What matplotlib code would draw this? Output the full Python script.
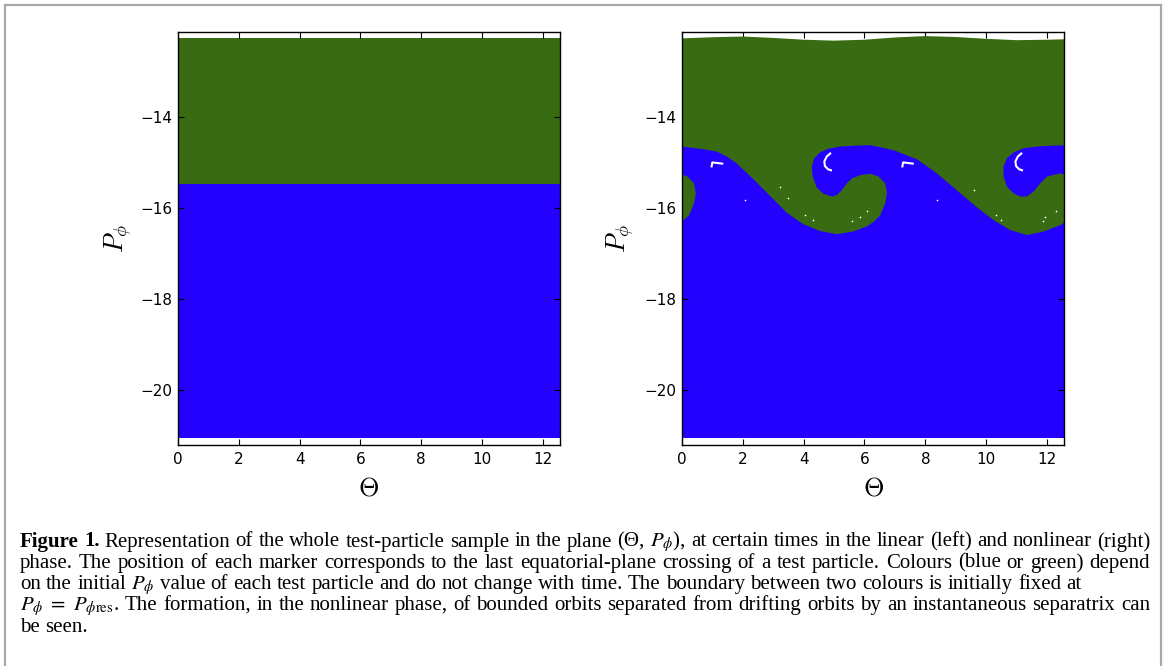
import numpy as np
import matplotlib
matplotlib.use("Agg")
import matplotlib.pyplot as plt
from matplotlib.lines import Line2D

# ---------------- data ----------------
THETA_MAX = 4 * np.pi
theta_ticks = [0, 2, 4, 6, 8, 10, 12]
p_ticks = [-14, -16, -18, -20]
ylim = (-21.21, -12.12)

# left panel (linear phase): two flat bands
left_p_top = -12.26
left_p_res = -15.46
left_p_bottom = -21.06

# right panel (nonlinear phase)
right_p_bottom = -21.06
top_theta = [-1.0, 0, 1, 2, 3, 4, 5, 6, 7, 8, 9, 10, 11, 12, 12.57, 13.5]
top_p = [-12.26, -12.26, -12.235, -12.22, -12.25, -12.29, -12.31, -12.29,
         -12.24, -12.21, -12.23, -12.27, -12.30, -12.29, -12.28, -12.28]

# green / blue boundary traced from left to right (multi-valued: roll-ups)
bnd_theta = [-1.0, -0.2, 0.02, 0.24, 0.40, 0.46, 0.40, 0.18, -0.09, -0.4, -0.4,
             0.00, 0.70, 1.14, 1.47, 1.80, 2.35, 2.90, 3.45, 3.99, 4.54, 5.09,
             5.64, 6.08, 6.30, 6.52, 6.68, 6.74, 6.68, 6.46, 6.19, 5.86, 5.59,
             5.42, 5.26, 5.09, 4.93, 4.65, 4.43, 4.30, 4.27, 4.35, 4.54, 4.82,
             5.20, 5.75, 6.19, 6.95, 7.72, 8.38, 9.15, 9.70, 10.24, 10.79,
             11.34, 11.89, 12.44, 12.60, 12.80, 12.96, 13.02, 12.96, 12.74,
             12.44, 12.00, 11.78, 11.56, 11.34, 11.12, 10.90, 10.68, 10.57,
             10.57, 10.68, 10.90, 11.23, 11.67, 12.22, 13.5]
bnd_p = [-16.45, -16.33, -16.28, -16.15, -15.89, -15.67, -15.45, -15.30, -15.24,
         -15.30, -14.62, -14.64, -14.70, -14.75, -14.86, -15.01, -15.36, -15.73,
         -16.10, -16.35, -16.50, -16.57, -16.51, -16.40, -16.30, -16.15, -15.89,
         -15.67, -15.45, -15.30, -15.24, -15.27, -15.34, -15.45, -15.60, -15.71,
         -15.74, -15.68, -15.54, -15.30, -15.08, -14.90, -14.77, -14.69, -14.64,
         -14.62, -14.61, -14.72, -14.92, -15.23, -15.67, -15.98, -16.26, -16.48,
         -16.59, -16.51, -16.37, -16.30, -16.15, -15.89, -15.67, -15.45, -15.30,
         -15.23, -15.30, -15.45, -15.63, -15.74, -15.74, -15.67, -15.52, -15.30,
         -15.08, -14.90, -14.77, -14.68, -14.64, -14.62, -14.60]

# empty (white) gaps in the blue regions
hook1_theta = [1.36, 1.00, 0.97]
hook1_p = [-15.02, -14.99, -15.10]
hook2_theta = [7.62, 7.27, 7.24]
hook2_p = [-15.02, -14.99, -15.10]
cres1_theta = [4.90, 4.76, 4.68, 4.70, 4.80, 4.93]
cres1_p = [-14.78, -14.86, -14.97, -15.07, -15.14, -15.17]
cres2_theta = [11.18, 11.04, 10.96, 10.98, 11.08, 11.21]
cres2_p = [-14.78, -14.86, -14.97, -15.07, -15.14, -15.17]
speck_theta = [2.08, 3.23, 3.50, 4.05, 4.32, 5.59, 5.86, 6.08, 8.38, 9.6, 10.33,
               10.49, 11.86, 11.93, 12.3]
speck_p = [-15.82, -15.54, -15.78, -16.15, -16.26, -16.27, -16.20, -16.07,
           -15.82, -15.6, -16.15, -16.26, -16.27, -16.19, -16.05]

GREEN = "#386b12"
BLUE = "#2400ff"

caption_lines = [
    [("Figure", "bold"), ("1.", "bold")] + [(w, "normal") for w in
        r"Representation of the whole test-particle sample in the plane (Θ, $P_\phi$), at certain times in the linear (left) and nonlinear (right)".split(" ")],
    [(w, "normal") for w in
        "phase. The position of each marker corresponds to the last equatorial-plane crossing of a test particle. Colours (blue or green) depend".split(" ")],
    [(w, "normal") for w in
        r"on the initial $P_\phi$ value of each test particle and do not change with time. The boundary between two colours is initially fixed at".split(" ")],
    [(r"$P_\phi\ =\ P_{\phi\mathrm{res}}$.", "normal")] + [(w, "normal") for w in
        "The formation, in the nonlinear phase, of bounded orbits separated from drifting orbits by an instantaneous separatrix can".split(" ")],
    [(w, "normal") for w in "be seen.".split(" ")],
]
caption_justify = [True, True, False, True, False]

# ---------------- figure ----------------
W, H = 1166, 666
fig = plt.figure(figsize=(W / 100, H / 100), dpi=100)
fig.patch.set_facecolor("white")

def px_axes(x0, y0, x1, y1):
    return fig.add_axes([x0 / W, 1 - y1 / H, (x1 - x0) / W, (y1 - y0) / H])

axL = px_axes(178, 32, 560, 445)
axR = px_axes(681.9, 32, 1064.3, 445)

# left panel
axL.fill_between([0, THETA_MAX], left_p_bottom, left_p_res, color=BLUE, lw=0)
axL.fill_between([0, THETA_MAX], left_p_res, left_p_top, color=GREEN, lw=0)

# right panel
axR.fill_between([0, THETA_MAX], right_p_bottom, -13.0, color=BLUE, lw=0)
poly_x = bnd_theta + top_theta[::-1]
poly_y = bnd_p + top_p[::-1]
axR.fill(poly_x, poly_y, color=GREEN, lw=0, zorder=2)
for tx, ty in [(hook1_theta, hook1_p), (hook2_theta, hook2_p),
               (cres1_theta, cres1_p), (cres2_theta, cres2_p)]:
    axR.plot(tx, ty, color="white", lw=1.5, solid_capstyle="butt", zorder=3)
axR.plot(speck_theta, speck_p, ls="none", marker="o", ms=1.2, mfc="white",
         mec="none", zorder=3)

for ax, ylx in [(axL, -0.114), (axR, -0.12)]:
    ax.set_xlim(0, THETA_MAX)
    ax.set_ylim(*ylim)
    ax.set_xticks(theta_ticks)
    ax.set_yticks(p_ticks)
    ax.tick_params(direction="in", top=True, right=True, length=4, width=0.8,
                   labelsize=11, colors="black")
    ax.tick_params(axis="x", pad=5)
    ax.tick_params(axis="y", pad=4)
    for sp in ax.spines.values():
        sp.set_linewidth(1.0)
        sp.set_color("black")
    ax.set_xlabel(r"$\Theta$", fontsize=19, math_fontfamily="cm")
    ax.set_ylabel(r"$P_\phi$", fontsize=19, math_fontfamily="cm")
    ax.xaxis.set_label_coords(0.5, -0.075)
    ax.yaxis.set_label_coords(ylx, 0.5)

# frame around the figure (journal box)
for xs, ys in [([5, 5], [666, 5]), ([5, 1161], [5, 5]), ([1161, 1161], [5, 666])]:
    fig.add_artist(Line2D([x / W for x in xs], [1 - y / H for y in ys],
                          transform=fig.transFigure, color="#a8a8a8", lw=1.6))

# ---------------- caption ----------------
renderer = fig.canvas.get_renderer()
FAM = ["Liberation Serif", "DejaVu Serif"]

def make(tok, weight, size):
    return fig.text(0, 0, tok, fontsize=size, fontweight=weight, family=FAM,
                    math_fontfamily="stix", va="baseline", ha="left",
                    color="black")

def width(t):
    return t.get_window_extent(renderer).width

x_left, x_right = 20, 1150
target = x_right - x_left
base = 11.0
sp_t = make("a a", "normal", base); sp_n = make("aa", "normal", base)
space0 = width(sp_t) - width(sp_n)
sp_t.remove(); sp_n.remove()
nat = []
for line in caption_lines:
    ws = []
    for tok, wt in line:
        t = make(tok, wt, base)
        ws.append(width(t))
        t.remove()
    nat.append(sum(ws) + space0 * (len(ws) - 1))
size = base * target / max(nat[i] for i in range(5) if caption_justify[i]) * 1.0
sp_t = make("a a", "normal", size); sp_n = make("aa", "normal", size)
space = width(sp_t) - width(sp_n)
sp_t.remove(); sp_n.remove()

baselines = [546.5, 567.8, 589.0, 610.2, 631.5]
for line, just, yb in zip(caption_lines, caption_justify, baselines):
    texts = [make(tok, wt, size) for tok, wt in line]
    ws = [width(t) for t in texts]
    gap = (target - sum(ws)) / (len(ws) - 1) if just else space
    gap = max(gap, 0.5 * space)
    x = x_left
    for t, w in zip(texts, ws):
        t.set_position((x / W, 1 - yb / H))
        x += w + gap

fig.savefig("out.png", dpi=100, facecolor="white")
